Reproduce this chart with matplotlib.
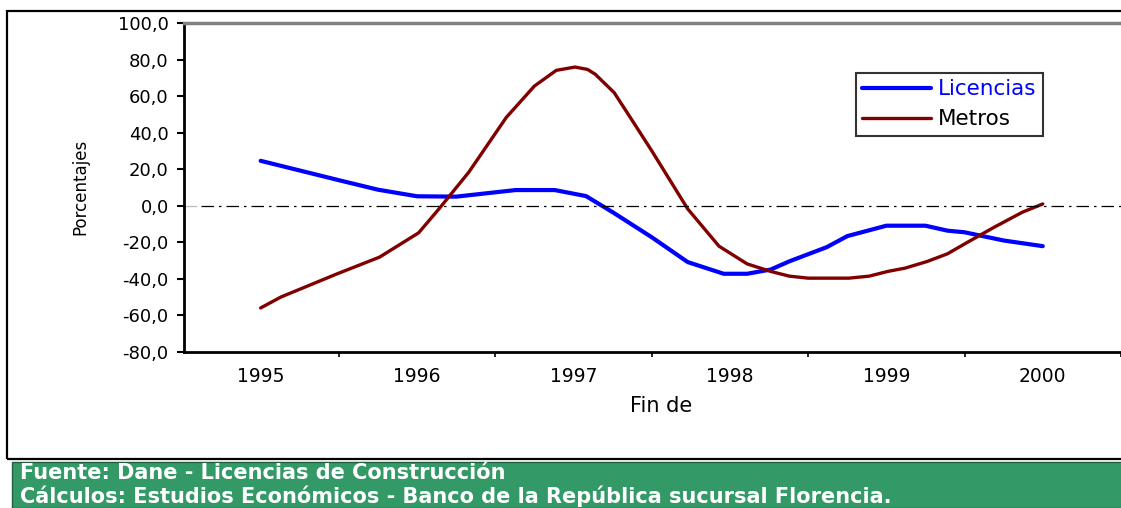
import matplotlib.pyplot as plt
import matplotlib.patches as patches
from matplotlib.ticker import FuncFormatter, MultipleLocator

plt.rcParams['font.family'] = ['DejaVu Sans']

# fechas en anos decimales (1995 = primer dato, 2000 = ultimo)
lic_x = [1995.00, 1995.50, 1995.75, 1996.00, 1996.25, 1996.63, 1996.88, 1997.08,
         1997.25, 1997.50, 1997.73, 1997.96, 1998.11, 1998.26, 1998.38, 1998.62,
         1998.75, 1999.00, 1999.25, 1999.39, 1999.50, 1999.75, 2000.00]
lic_y = [24.6, 14.0, 8.8, 5.2, 5.0, 8.6, 8.6, 5.3, -3.5, -17.2, -30.8, -37.2,
         -37.2, -34.9, -30.4, -22.6, -16.6, -10.9, -10.9, -13.6, -14.5, -19.0, -22.1]

met_x = [1995.00, 1995.13, 1995.49, 1995.76, 1996.01, 1996.14, 1996.33, 1996.57,
         1996.75, 1996.89, 1997.01, 1997.09, 1997.14, 1997.26, 1997.37, 1997.50,
         1997.73, 1997.93, 1998.11, 1998.26, 1998.38, 1998.50, 1998.76, 1998.89,
         1999.01, 1999.12, 1999.26, 1999.39, 1999.52, 1999.69, 1999.87, 2000.00]
met_y = [-55.9, -49.9, -37.2, -28.1, -14.8, -1.7, 18.3, 48.3, 65.5, 74.1, 75.9,
         74.6, 71.9, 61.9, 47.4, 30.1, -1.7, -22.1, -31.8, -35.9, -38.5, -39.6,
         -39.6, -38.5, -35.9, -34.1, -30.5, -26.3, -19.9, -11.7, -3.5, 1.0]

years = [1995, 1996, 1997, 1998, 1999, 2000]
year_labels = [str(y) for y in years]

W, H = 1121, 508
fig = plt.figure(figsize=(W / 100, H / 100), dpi=100)

# marco exterior y pie verde
fig.patches.append(patches.Rectangle((7 / W, 1 - 459 / H), 1.1, (459 - 11) / H,
                                     transform=fig.transFigure, fill=False,
                                     edgecolor='black', lw=1.6))
fig.patches.append(patches.Rectangle((12 / W, 0), 1.1, (508 - 462) / H,
                                     transform=fig.transFigure, facecolor='#339966',
                                     edgecolor='#1f5f3f', lw=1))
fig.text(20 / W, 1 - 473 / H, 'Fuente: Dane - Licencias de Construcción',
         color='white', fontsize=15, fontweight='bold', va='center', ha='left')
fig.text(20 / W, 1 - 496 / H,
         'Cálculos: Estudios Económicos - Banco de la República sucursal Florencia.',
         color='white', fontsize=15, fontweight='bold', va='center', ha='left')

ax = fig.add_axes([184 / W, 1 - 352 / H, (W - 184) / W, (352 - 23) / H])
ax.plot(lic_x, lic_y, color='#0000ff', lw=3.0, label='Licencias', solid_capstyle='round')
ax.plot(met_x, met_y, color='#800000', lw=2.4, label='Metros', solid_capstyle='round')
ax.axhline(0, xmin=0.018, color='black', lw=0.9, linestyle=(0, (10, 4, 2, 4)))
ax.axhline(0, xmin=0, xmax=0.013, color='#c0c0c0', lw=1)

ax.set_xlim(1994.51, 1995 + (W - 262) / 159)
ax.set_ylim(-80, 100)
ax.yaxis.set_major_locator(MultipleLocator(20))
ax.yaxis.set_major_formatter(FuncFormatter(lambda v, p: f'{v:.1f}'.replace('.', ',')))
ax.set_xticks(years)
ax.set_xticklabels(year_labels)
ax.set_xticks([y + 0.5 for y in years], minor=True)
ax.tick_params(axis='x', which='major', length=0, pad=11, labelsize=13.5)
ax.tick_params(axis='x', which='minor', length=3.5, width=1.2, direction='out')
ax.tick_params(axis='y', length=5, width=1.5, pad=6, labelsize=13)

ax.spines['right'].set_visible(False)
ax.spines['top'].set_color('#808080')
ax.spines['top'].set_linewidth(2.5)
ax.spines['left'].set_linewidth(2)
ax.spines['bottom'].set_linewidth(2)

fig.text(661 / W, 1 - 406 / H, 'Fin de', fontsize=15, ha='center', va='center')
fig.text(80 / W, 1 - 187 / H, 'Porcentajes', fontsize=12, rotation=90,
         ha='center', va='center')

leg = ax.legend(loc='upper left', bbox_to_anchor=(856 / W, 1 - 73 / H),
                bbox_transform=fig.transFigure, borderaxespad=0, fontsize=15.5,
                frameon=True, fancybox=False, handlelength=3.2, handletextpad=0.3,
                labelspacing=0.45, borderpad=0.3, labelcolor=['#0000ff', 'black'])
leg.get_frame().set_edgecolor('black')
leg.get_frame().set_linewidth(1.5)

plt.savefig('out.png', dpi=100)
